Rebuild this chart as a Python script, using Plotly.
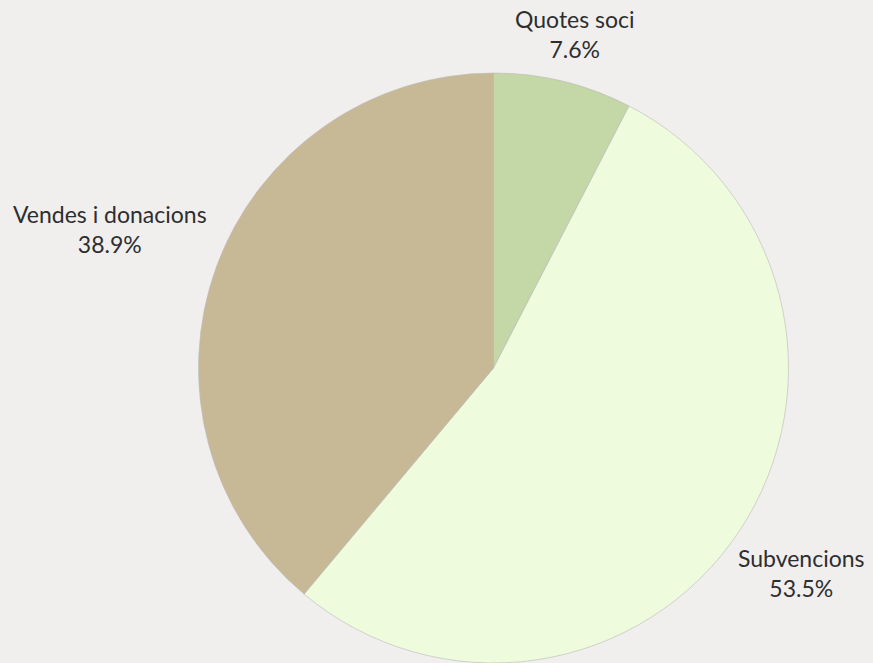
import math
import plotly.graph_objects as go

labels = ["Quotes soci", "Subvencions", "Vendes i donacions"]
values = [7.6, 53.5, 38.9]
colors = ["#c4d7a6", "#eefbdc", "#c8b996"]

W, H = 873, 663
DOM_X = [0.2274, 0.9032]
DOM_Y = [0.0, 0.8899]

fig = go.Figure(go.Pie(
    labels=labels,
    values=values,
    sort=False,
    direction="clockwise",
    rotation=0,
    marker=dict(colors=colors, line=dict(color="#b8b8b8", width=0.6)),
    textinfo="none",
    showlegend=False,
    hoverinfo="label+percent",
    domain=dict(x=DOM_X, y=DOM_Y),
))

# outside labels placed along each slice's mid-angle ray
cx = (DOM_X[0] + DOM_X[1]) / 2 * W
cy = (1 - (DOM_Y[0] + DOM_Y[1]) / 2) * H
r = min((DOM_X[1] - DOM_X[0]) * W, (DOM_Y[1] - DOM_Y[0]) * H) / 2
total = sum(values)
cum = 0.0
annotations = []
for lab, v in zip(labels, values):
    mid = (cum + v / 2) / total * 2 * math.pi
    cum += v
    ux, uy = math.sin(mid), -math.cos(mid)
    hw = max(len(lab), 5) * 11 / 2
    hh = 23
    d = r + 12 + abs(ux) * hw + abs(uy) * hh
    px, py = cx + ux * d, cy + uy * d
    annotations.append(dict(
        x=px / W, y=1 - py / H, xref="paper", yref="paper",
        xanchor="center", yanchor="middle", showarrow=False, align="center",
        text=f"{lab}<br>{v / total * 100:.1f}%",
        font=dict(family="Lato", size=23, color="#2e2e2e"),
    ))

fig.update_layout(
    width=W, height=H,
    margin=dict(l=0, r=0, t=0, b=0),
    paper_bgcolor="#f0efee",
    plot_bgcolor="#f0efee",
    annotations=annotations,
)

fig.write_html(
    "out.html",
    config={"displayModeBar": False},
    post_script="document.body.style.margin='0';document.body.style.background='#f0efee';",
)
